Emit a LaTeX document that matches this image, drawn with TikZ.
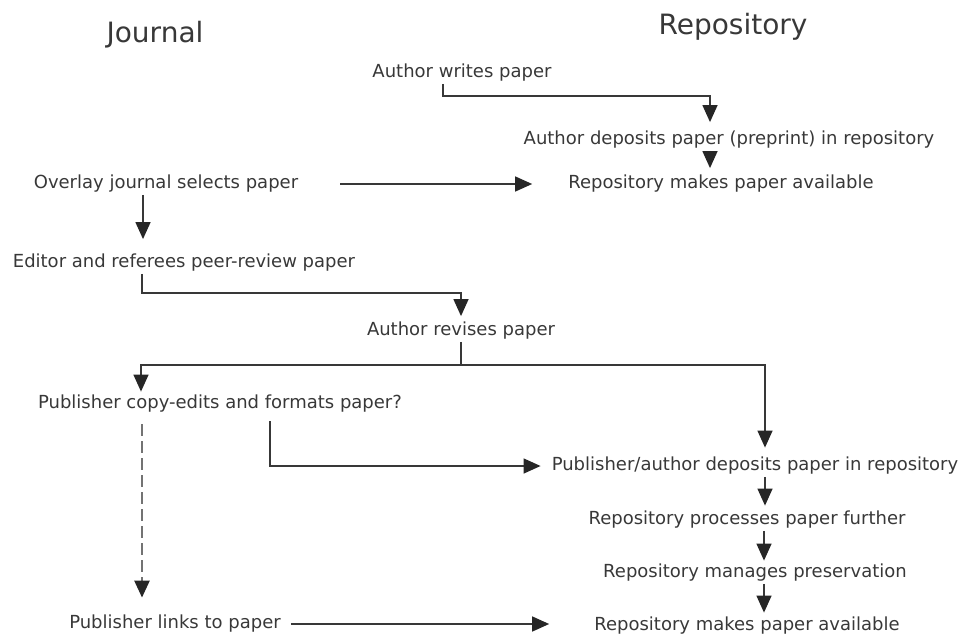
\documentclass[tikz,border=0pt]{standalone}
\usepackage{fontspec}
\setmainfont{DejaVu Sans}
\usetikzlibrary{arrows.meta,positioning}
\tikzset{
	stage/.style={font=\fontsize{18}{21}\selectfont, text=black!78, inner sep=2pt},
	side/.style={font=\fontsize{28}{32}\selectfont, text=black!78},
	line/.style={line width=1.4pt, draw=black!78},
	link/.style={line, -{Triangle[width=15pt,length=17pt,color=black!85]}},
	hint/.style={link, draw=black!55, line width=2.5pt, dash pattern=on 12pt off 5pt}
}

\begin{document}
\begin{tikzpicture}[x=1pt,y=-1pt]
			%%%%% START %%%%%
			\useasboundingbox (0,0) rectangle (962,637);
			
			\node[side] (jour) at (155,35) {Journal};
			\node[side] (repo) at (733,27) {Repository};
			
			\node[stage] (write) at (462,73) {Author writes paper};
			\node[stage] (deposit) at (729,140) {Author deposits paper (preprint) in repository};
			\node[stage] (avail) at (721,184) {Repository makes paper available};
			\node[stage] (select) at (166,184) {Overlay journal selects paper};
			\node[stage] (review) at (184,263) {Editor and referees peer-review paper};
			\node[stage] (revise) at (461,331) {Author revises paper};
			\node[stage] (copyedit) at (220,404) {Publisher copy-edits and formats paper?};
			\node[stage] (deposit2) at (755,466) {Publisher/author deposits paper in repository};
			\node[stage] (process) at (747,520) {Repository processes paper further};
			\node[stage] (preserve) at (755,573) {Repository manages preservation};
			\node[stage] (links) at (175,624) {Publisher links to paper};
			\node[stage] (avail2) at (747,626) {Repository makes paper available};
			
			\draw[link, shorten >=7pt] ([xshift=-19pt]write.south) -- ++(0,12) -| ([xshift=-19pt]deposit.north);
			\draw[link, shorten >=5pt] ([xshift=-19pt]deposit.south) -- ([xshift=-11pt]avail.north);
			\draw[link, shorten <=40pt, shorten >=34pt] (select.east) -- (select.east -| avail.west);
			
			\draw[link, shorten >=13pt] ([xshift=-23pt]select.south) -- ([xshift=-41pt]review.north);
			\draw[link, shorten >=4pt] ([xshift=-42pt]review.south) -- ++(0,19) -| (revise.north);
			
			\draw[line] (revise.south) -- ++(0,23) coordinate (fork);
			\draw[link, shorten >=1.5pt] (fork) -| ([xshift=-79pt]copyedit.north);
			\draw[link, shorten >=7.5pt] (fork) -| ([xshift=10pt]deposit2.north);
			
			\draw[link, shorten <=6.5pt, shorten >=9pt] ([xshift=50pt]copyedit.south) |- (deposit2.west);
			\draw[hint, shorten <=9.5pt, shorten >=15.5pt] ([xshift=-78pt]copyedit.south) -- ([xshift=-33pt]links.north);
			
			\draw[link, shorten >=3.5pt] ([xshift=10pt]deposit2.south) -- ([xshift=18pt]process.north);
			\draw[link, shorten >=1.5pt] ([xshift=17pt]process.south) -- ([xshift=9pt]preserve.north);
			\draw[link, shorten >=2.5pt] ([xshift=9pt]preserve.south) -- ([xshift=17pt]avail2.north);
			
			\draw[link, shorten <=8pt, shorten >=43pt] (links.east) -- (links.east -| avail2.west);
			%%%%% END %%%%%
\end{tikzpicture}
\end{document}
